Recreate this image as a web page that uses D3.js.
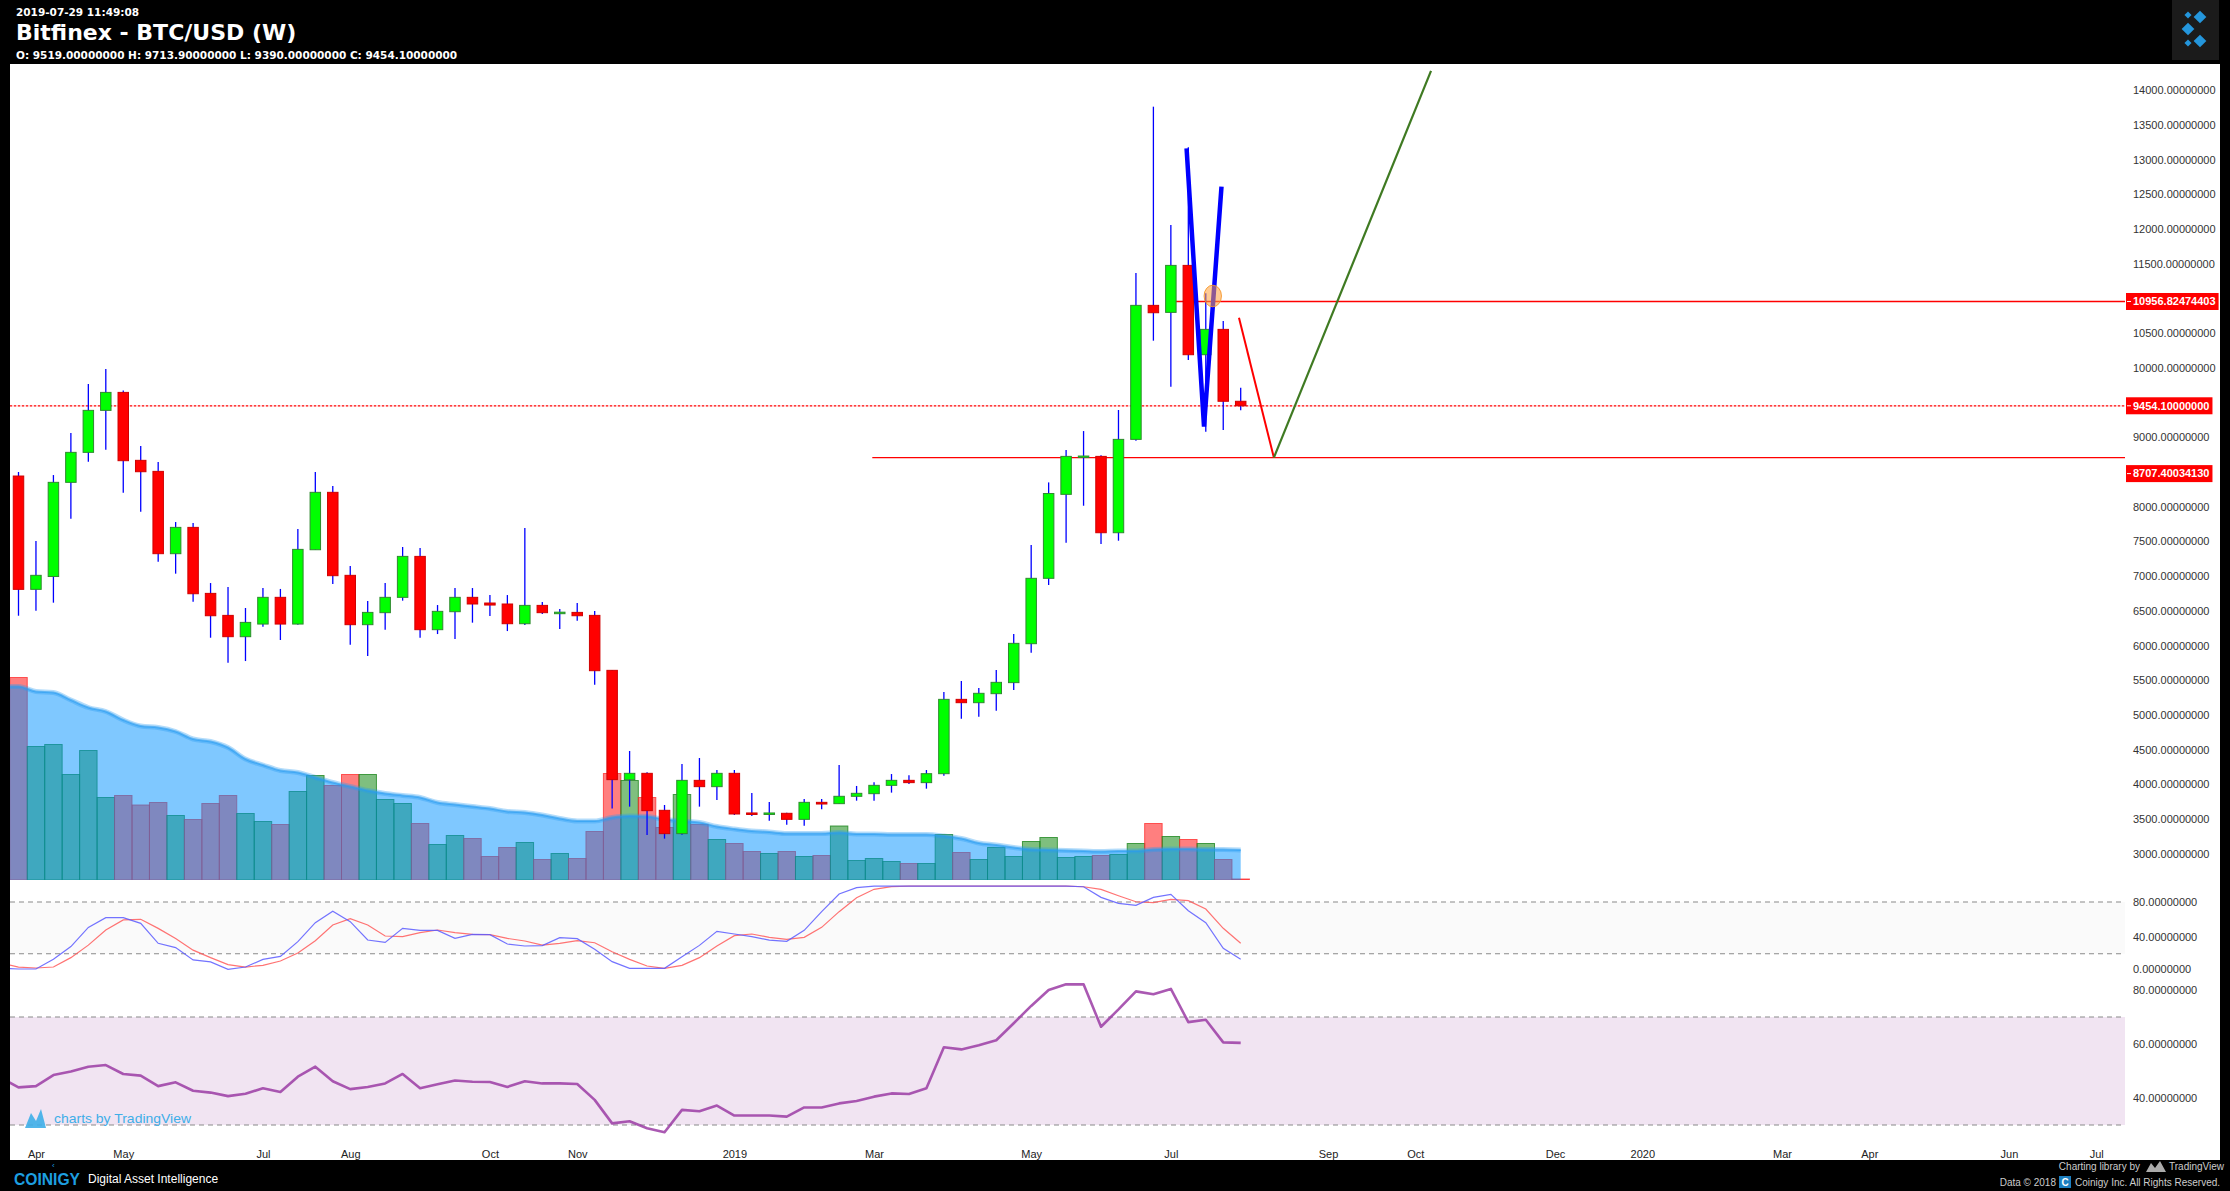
<!DOCTYPE html>
<html><head><meta charset="utf-8">
<script src="https://cdn.jsdelivr.net/npm/d3@7"></script>
<style>
html,body{margin:0;padding:0;background:#000;overflow:hidden;}
svg{display:block;}
</style></head><body>
<svg id="c" width="2230" height="1191"></svg>
<script>
// ---------------- DATA ----------------
const openP  = [8442,6809,6994,8351,8783,9388,9647,8668,8509,7323,7702,6751,6434,6127,6309,6694,6309,7380,8207,7011,6300,6473,6694,7284,6228,6487,6694,6612,6598,6314,6578,6477,6477,6434,5642,4066,4158,3625,3289,4057,3966,4158,3587,3577,3582,3495,3740,3721,3827,3865,3985,4057,4024,4153,5224,5176,5306,5465,6026,6968,8178,8720,8725,7625,8970,10901,10800,11477,10190,10555,9519];
const highP  = [8500,7505,8456,9061,9768,9984,9676,8874,8644,7779,7765,6900,6842,6540,6828,6815,7678,8500,8298,7145,6641,6900,7419,7404,6583,6828,6828,6727,6727,7693,6627,6525,6612,6497,5642,4480,4173,3702,4293,4379,4206,4206,3875,3745,3590,3788,3788,4278,3976,4028,4148,4129,4206,5330,5489,5388,5647,6166,7448,8350,8817,9090,8740,9393,11367,13764,12059,13180,11074,10675,9713.9];
const lowP   = [6429,6501,6617,7827,8648,8821,8202,7928,7207,7035,6631,6112,5752,5776,6271,6079,6300,7380,6886,6012,5848,6228,6646,6112,6165,6093,6329,6425,6208,6295,6453,6237,6357,5435,3653,3678,3270,3217,3274,3678,3774,3558,3543,3476,3418,3404,3639,3721,3764,3764,3880,4004,3937,4124,4946,4975,5061,5359,5897,6872,7481,8014,7462,7510,8951,10392,9729,10113,9081,9105,9390];
const closeP = [6809,7011,8351,8783,9388,9647,8663,8504,7323,7702,6746,6429,6127,6333,6694,6309,7385,8207,7006,6300,6477,6694,7284,6228,6492,6694,6598,6583,6314,6578,6473,6480,6429,5637,4067,4158,3620,3289,4057,3966,4158,3572,3577,3587,3495,3740,3716,3827,3870,3985,4057,4024,4153,5224,5176,5311,5469,6031,6968,8190,8725,8730,7625,8970,10901,10795,11477,10190,10555,9519,9454.1];
const volume = [405,267,271,211,259,165,169,150,155,129,121,153,169,133,117,111,177,209,189,211,211,161,153,113,71,89,83,47,65,75,41,53,43,97,213,199,165,105,171,111,81,73,57,53,57,47,49,108,39,43,37,33,33,91,55,41,65,47,77,85,45,47,49,51,73,113,87,81,73,41,2];
const volumeMA = [387,377,375,360,345,337,320,308,305,297,282,277,265,242,230,219,215,205,195,187,179,173,169,165,155,151,147,143,137,135,130,123,118,118,125,128,127,121,118,115,107,102,98,96,93,93,93,95,92,92,91,91,91,88,83,74,70,65,61,60,59,58,57,58,58,61,62,62,61,61,60];
const stochK = [2.3,2.3,13.5,28.3,50.6,61.8,61.8,55.3,32.1,27.1,12.8,10.5,1.9,4.6,13.5,16.9,34,56,69.2,57.2,35.9,33.2,49.4,47.1,47.1,37.8,42.5,42.1,31.3,29,29.4,38.6,37.5,25.1,10.8,3.1,3.1,3.1,16.6,29.7,46,42.9,39.8,35.9,34.4,47.1,68.8,89.3,96.6,98.5,98.5,98.5,98.5,98.5,98.5,98.5,98.5,98.5,98.5,98.5,98.5,97.7,85.4,78.5,76.2,85.4,88.9,69.9,56,26.3,13.6];
const stochD = [4.6,3.5,4.6,15.5,30,47.5,59.2,59.9,49.4,37.8,24.2,15.5,7.4,4.6,6.6,11.6,20.9,35.1,53.3,60.7,53.3,40.6,39.8,44.4,47.5,44.4,42.5,42.1,37.8,34.8,30,32,35.1,32.8,22.4,13.5,5.8,3.1,6.6,15.5,29,41,42.9,39,36.7,39,50.6,68.8,85,94.7,97.8,98.5,98.5,98.5,98.5,98.5,98.5,98.5,98.5,98.5,98.5,97.7,94.7,87.3,80.3,79.2,83.1,81.5,71.9,49.5,32.1];
const rsi = [43.95,44.4,48.5,49.8,51.6,52.2,48.9,48.3,44.4,45.8,42.7,42,40.7,41.6,43.6,42.2,47.9,51.6,46.2,43.3,44.1,45.4,48.9,43.6,45.1,46.5,46,45.9,44.1,46.2,45.4,45.4,45.2,39.3,30.6,31.4,28.8,27.3,35.6,35.1,37.2,33.5,33.5,33.5,33.1,36.5,36.5,38,38.9,40.5,41.7,41.5,43.6,58.8,58,59.5,61.4,67.7,74.1,80,82.1,82.1,66.4,72.8,79.5,78.4,80.4,68.1,69,60.6,60.4];
// values of the week before the first visible candle (line runs in from the pane edge)
const prevStochK = 3.1, prevStochD = 9.2, prevRsi = 47.5;

const priceTicks = [14000,13500,13000,12500,12000,11500,10500,10000,9000,8000,7500,7000,6500,6000,5500,5000,4500,4000,3500,3000];
const stochTicks = [80,40,0];
const rsiTicks = [80,60,40];
const timeTickDates = ["2018-04-02","2018-05-07","2018-07-02","2018-08-06","2018-10-01","2018-11-05","2019-01-07","2019-03-04","2019-05-06","2019-07-01","2019-09-02","2019-10-07","2019-12-02","2020-01-06","2020-03-02","2020-04-06","2020-06-01","2020-07-06"];
const timeTickLabels = ["Apr","May","Jul","Aug","Oct","Nov","2019","Mar","May","Jul","Sep","Oct","Dec","2020","Mar","Apr","Jun","Jul"];

// price level lines
const levelLines = [
  {price:10956.82474403, from:66.3, style:"solid"},
  {price:9454.1, from:-0.5, style:"dotted"},
  {price:8707.40034130, from:48.9, style:"solid"}
];
// drawings as [bar index, price]
const blueV    = [[66.9,13164],[67.9,9153],[68.9,12611]];
const redLeg   = [[69.9,10723],[71.9,8707.4]];
const greenLeg = [[71.9,8707.4],[80.9,14280]];
const orangeMark = [68.4,11036];

const headerDate = "2019-07-29 11:49:08";
const headerTitle = "Bitfinex - BTC/USD (W)";
const headerOHLC = "O: 9519.00000000 H: 9713.90000000 L: 9390.00000000 C: 9454.10000000";

// ---------------- LAYOUT ----------------
const W=2230,H=1191;
const L=10, R=2125, TOP=64, PRICE_BOTTOM=880;
const svg=d3.select("#c");
svg.append("rect").attr("width",W).attr("height",H).attr("fill","#000");
svg.append("rect").attr("x",L).attr("y",TOP).attr("width",2220-L).attr("height",1160-TOP).attr("fill","#fff");

const weeks = d3.utcMonday.range(new Date(Date.UTC(2018,2,26)), new Date(Date.UTC(2019,6,30)));
const x = d3.scaleUtc().domain([weeks[0], weeks[weeks.length-1]]).range([18.5, 18.5+70*17.46]);
const step = x(weeks[1]) - x(weeks[0]);
const xi = i => x(weeks[0]) + i*step;

const yPrice = d3.scaleLinear().domain([3000,14000]).range([853.7,90.3]);
const yVol = d3.scaleLinear().domain([0,1000]).range([PRICE_BOTTOM,380]);
const yStoch = d3.scaleLinear().domain([0,100]).range([971,884.75]);
const yRsi = d3.scaleLinear().domain([40,80]).range([1098,990]);

const defs = svg.append("defs");
defs.append("clipPath").attr("id","pclip").append("rect").attr("x",L).attr("y",TOP).attr("width",R-L).attr("height",PRICE_BOTTOM-TOP);
defs.append("clipPath").attr("id","iclip").append("rect").attr("x",L).attr("y",PRICE_BOTTOM).attr("width",R-L).attr("height",1160-PRICE_BOTTOM);

// ---------------- HEADER ----------------
const hdr = svg.append("g").attr("font-family","DejaVu Sans, Verdana, sans-serif").attr("font-weight","bold").attr("fill","#fff");
hdr.append("text").attr("x",16).attr("y",15.5).attr("font-size",10.5).text(headerDate);
hdr.append("text").attr("x",16).attr("y",39.5).attr("font-size",22).text(headerTitle);
hdr.append("text").attr("x",16).attr("y",59).attr("font-size",10.5).text(headerOHLC);
// top-right logo
const logo = svg.append("g");
logo.append("rect").attr("x",2172).attr("y",0).attr("width",47).attr("height",60).attr("fill","#1b1b1b");
[[2200,17,9],[2188,29,9],[2200,41,9],[2188,43,5],[2188,15,5]].forEach(([cx,cy,s])=>{
  logo.append("rect").attr("x",cx-s/2).attr("y",cy-s/2).attr("width",s).attr("height",s)
    .attr("fill","#2496dc").attr("transform",`rotate(45 ${cx} ${cy})`);
});

// ---------------- PRICE PANE ----------------
const pane = svg.append("g").attr("clip-path","url(#pclip)");

// volume bars
const volG = pane.append("g");
volG.selectAll("rect").data(volume).join("rect")
  .attr("x",(d,i)=>xi(i)-step/2).attr("width",step)
  .attr("y",d=>yVol(d)).attr("height",d=>yVol(0)-yVol(d))
  .attr("fill",(d,i)=>closeP[i]>=openP[i]?"rgba(0,128,0,0.5)":"rgba(255,0,0,0.5)")
  .attr("stroke",(d,i)=>closeP[i]>=openP[i]?"rgba(20,130,20,0.75)":"rgba(255,40,40,0.75)")
  .attr("stroke-width",1);

// volume MA area
const maPts = [[-0.5,volumeMA[0]]].concat(volumeMA.map((v,i)=>[i,v]));
pane.append("path").datum(maPts)
  .attr("d",d3.area().x(d=>xi(d[0])).y0(yVol(0)).y1(d=>yVol(d[1])).curve(d3.curveMonotoneX))
  .attr("fill","rgba(0,145,255,0.5)");
pane.append("path").datum(maPts)
  .attr("d",d3.line().x(d=>xi(d[0])).y(d=>yVol(d[1])).curve(d3.curveMonotoneX))
  .attr("fill","none").attr("stroke","rgba(40,155,240,0.35)").attr("stroke-width",5);
pane.append("path").datum(maPts)
  .attr("d",d3.line().x(d=>xi(d[0])).y(d=>yVol(d[1])).curve(d3.curveMonotoneX))
  .attr("fill","none").attr("stroke","rgba(40,155,240,0.6)").attr("stroke-width",2);

// level lines
levelLines.forEach(l=>{
  pane.append("line").attr("x1",xi(l.from)).attr("x2",R).attr("y1",yPrice(l.price)).attr("y2",yPrice(l.price))
    .attr("stroke","#ff0000").attr("stroke-width",l.style==="dotted"?1.2:1.3)
    .attr("stroke-dasharray",l.style==="dotted"?"2.5,1.5":null);
});

// candles
const cg = pane.append("g");
const idx = d3.range(openP.length);
cg.selectAll("line.w").data(idx).join("line").attr("class","w")
  .attr("x1",i=>xi(i)).attr("x2",i=>xi(i))
  .attr("y1",i=>yPrice(highP[i])).attr("y2",i=>yPrice(lowP[i]))
  .attr("stroke","#0000ff").attr("stroke-width",1.3);
const bw = step*0.6;
cg.selectAll("rect.b").data(idx).join("rect").attr("class","b")
  .attr("x",i=>xi(i)-bw/2).attr("width",bw)
  .attr("y",i=>yPrice(Math.max(openP[i],closeP[i])))
  .attr("height",i=>Math.max(1.5,Math.abs(yPrice(openP[i])-yPrice(closeP[i]))))
  .attr("fill",i=>closeP[i]>=openP[i]?"#00ff00":"#ff0000")
  .attr("stroke",i=>closeP[i]>=openP[i]?"#2f8a2f":"#d00000")
  .attr("stroke-width",1);

// drawings
const dl = d3.line().x(d=>xi(d[0])).y(d=>yPrice(d[1]));
pane.append("path").datum(blueV).attr("d",dl).attr("fill","none").attr("stroke","#0000ff").attr("stroke-width",4.5).attr("stroke-linejoin","miter");
pane.append("ellipse").attr("cx",xi(orangeMark[0])).attr("cy",yPrice(orangeMark[1])).attr("rx",8.7).attr("ry",10.8)
  .attr("fill","rgba(255,160,60,0.55)").attr("stroke","rgba(245,150,40,0.9)").attr("stroke-width",1);
pane.append("path").datum(redLeg).attr("d",dl).attr("fill","none").attr("stroke","#ff0000").attr("stroke-width",2);
pane.append("path").datum(greenLeg).attr("d",dl).attr("fill","none").attr("stroke","#3f7a22").attr("stroke-width",2.2);

// price axis
const axFont = "Liberation Sans, Arial, sans-serif";
const pAxis = svg.append("g").attr("transform",`translate(2133,0)`)
  .call(d3.axisRight(yPrice).tickValues(priceTicks).tickFormat(d3.format(".8f")).tickSize(0).tickPadding(0));
pAxis.select(".domain").remove();
pAxis.selectAll("text").attr("font-family",axFont).attr("font-size",11).attr("fill","#333");

// level labels
const labelOffsets = [0,0,16];
levelLines.forEach((l,k)=>{
  const yy = yPrice(l.price)+labelOffsets[k];
  const g = svg.append("g");
  const t = g.append("text").attr("x",2133).attr("y",yy).attr("dy","0.35em")
    .attr("font-family",axFont).attr("font-size",11).attr("font-weight","bold")
    .attr("fill","#fff").text(d3.format(".8f")(l.price));
  const tw = t.node().getComputedTextLength();
  g.insert("rect","text").attr("x",2126).attr("y",yy-8.5).attr("width",2133+tw+3-2126).attr("height",17).attr("fill","#ff0000");
  g.insert("line","text").attr("x1",2127).attr("x2",2131).attr("y1",yy).attr("y2",yy).attr("stroke","#fff").attr("stroke-width",1);
});

// ---------------- STOCH PANE ----------------
const ind = svg.append("g").attr("clip-path","url(#iclip)");
ind.append("rect").attr("x",L).attr("y",yStoch(80)).attr("width",R-L).attr("height",yStoch(20)-yStoch(80)).attr("fill","#fafafa");
[80,20].forEach(v=>ind.append("line").attr("x1",L).attr("x2",R).attr("y1",yStoch(v)).attr("y2",yStoch(v))
  .attr("stroke","#8a8a8a").attr("stroke-width",1.2).attr("stroke-dasharray","5,4"));
const withPrev = (arr,p)=>[[-1,p]].concat(arr.map((v,i)=>[i,v]));
const sl = d3.line().x(d=>xi(d[0])).y(d=>yStoch(d[1]));
ind.append("path").datum(withPrev(stochD,prevStochD)).attr("d",sl).attr("fill","none").attr("stroke","rgba(255,90,90,0.85)").attr("stroke-width",1.2);
ind.append("path").datum(withPrev(stochK,prevStochK)).attr("d",sl).attr("fill","none").attr("stroke","rgba(90,90,255,0.85)").attr("stroke-width",1.2);
const sAxis = svg.append("g").attr("transform","translate(2133,0)")
  .call(d3.axisRight(yStoch).tickValues(stochTicks).tickFormat(d3.format(".8f")).tickSize(0).tickPadding(0));
sAxis.select(".domain").remove();
sAxis.selectAll("text").attr("font-family",axFont).attr("font-size",11).attr("fill","#333");
sAxis.selectAll(".tick").filter(d=>d===0).attr("transform",`translate(0,${yStoch(0)-2})`);

// ---------------- RSI PANE ----------------
ind.append("rect").attr("x",L).attr("y",yRsi(70)).attr("width",R-L).attr("height",yRsi(30)-yRsi(70)).attr("fill","#f1e4f2");
[70,30].forEach(v=>ind.append("line").attr("x1",L).attr("x2",R).attr("y1",yRsi(v)).attr("y2",yRsi(v))
  .attr("stroke","#8a8a8a").attr("stroke-width",1.2).attr("stroke-dasharray","5,4"));
ind.append("path").datum(withPrev(rsi,prevRsi)).attr("d",d3.line().x(d=>xi(d[0])).y(d=>yRsi(d[1])))
  .attr("fill","none").attr("stroke","rgba(155,60,165,0.85)").attr("stroke-width",2.6).attr("stroke-linejoin","round");
const rAxis = svg.append("g").attr("transform","translate(2133,0)")
  .call(d3.axisRight(yRsi).tickValues(rsiTicks).tickFormat(d3.format(".8f")).tickSize(0).tickPadding(0));
rAxis.select(".domain").remove();
rAxis.selectAll("text").attr("font-family",axFont).attr("font-size",11).attr("fill","#333");

// watermark
const wm = svg.append("g").attr("fill","#3eaee8");
wm.append("path").attr("d","M25,1128 L31,1113 L36,1121 L41,1109 L46,1128 Z").attr("opacity",0.9);
wm.append("text").attr("x",54).attr("y",1123).attr("font-family",axFont).attr("font-size",13.5)
  .attr("textLength",137).attr("lengthAdjust","spacingAndGlyphs").text("charts by TradingView");

// ---------------- TIME AXIS ----------------
const tAxis = svg.append("g").attr("transform","translate(0,1150)")
  .call(d3.axisBottom(x).tickValues(timeTickDates.map(s=>new Date(s+"T00:00:00Z"))).tickFormat((d,i)=>timeTickLabels[i]).tickSize(0).tickPadding(0));
tAxis.select(".domain").remove();
tAxis.selectAll("text").attr("font-family",axFont).attr("font-size",11).attr("fill","#222");

// ---------------- FOOTER ----------------
const ft = svg.append("g").attr("font-family",axFont);
ft.append("text").attr("x",14).attr("y",1185).attr("font-size",17).attr("font-weight","bold").attr("fill","#1d9fe0")
  .attr("textLength",66).attr("lengthAdjust","spacingAndGlyphs").text("COINIGY");
ft.append("text").attr("x",52).attr("y",1168).attr("font-size",8).attr("fill","#1d9fe0").text("‹");
ft.append("text").attr("x",88).attr("y",1183).attr("font-size",12).attr("fill","#fff").text("Digital Asset Intelligence");
ft.append("text").attr("x",2140).attr("y",1170).attr("font-size",10).attr("fill","#ccc").attr("text-anchor","end").text("Charting library by");
ft.append("path").attr("d","M2146,1172 L2151,1163 L2155,1168 L2160,1161 L2166,1172 Z").attr("fill","#aaa");
ft.append("text").attr("x",2169).attr("y",1170).attr("font-size",10).attr("fill","#ccc").text("TradingView");
ft.append("text").attr("x",2056).attr("y",1186).attr("font-size",10).attr("fill","#ccc").attr("text-anchor","end").text("Data © 2018");
ft.append("rect").attr("x",2059).attr("y",1176).attr("width",12).attr("height",12).attr("fill","#1d7fc0");
ft.append("text").attr("x",2061.5).attr("y",1186).attr("font-size",10).attr("font-weight","bold").attr("fill","#fff").text("C");
ft.append("text").attr("x",2075).attr("y",1186).attr("font-size",10).attr("fill","#ccc").text("Coinigy Inc. All Rights Reserved.");
</script>
</body></html>
